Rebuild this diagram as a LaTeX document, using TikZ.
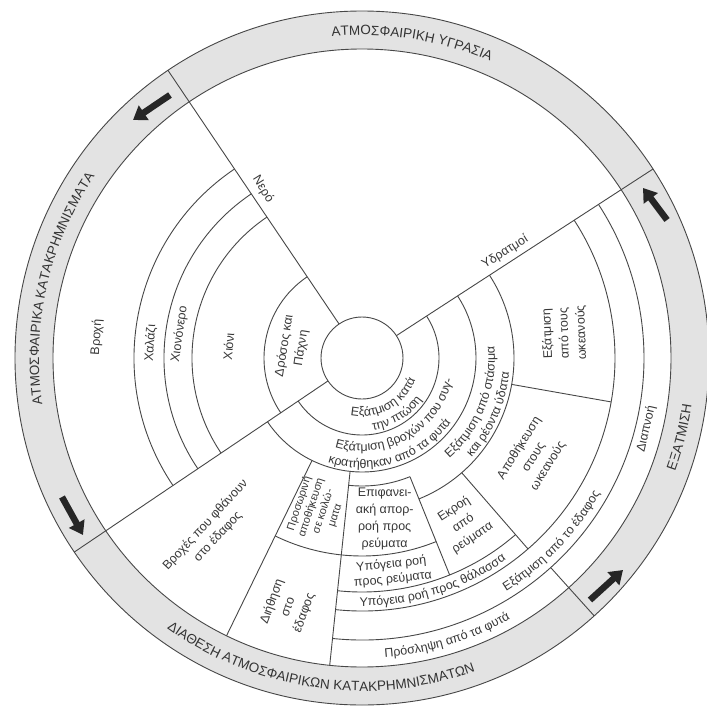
\documentclass[tikz,border=0pt]{standalone}
\usepackage{fontspec}
\setmainfont{Liberation Sans}
\usetikzlibrary{decorations.text,arrows.meta}
\newcommand\ringfnt{\color{black!80}\fontsize{13.5}{16}\selectfont}
\newcommand\bandfnt{\color{black!78}\fontsize{12.5}{15}\selectfont}
\newcommand\curvedtext[5]{\path[decorate,decoration={text along path,text align=center,text={|#4|#5}}] (#2:#1) arc[start angle=#2,end angle=#3,radius=#1];}
\begin{document}
\begin{tikzpicture}[x=1pt,y=1pt,
  ln/.style={draw=black!72,line width=0.9pt},
  lbl/.style={font=\fontsize{12.5}{17}\selectfont,text=black!78,align=center,inner sep=0pt},
  arrowst/.style={line width=6.5pt,draw=black!85,-{Triangle[length=13pt,width=17pt]}}]
\path[use as bounding box] (-362,-347) rectangle (345,358);
\fill[white] (-362,-347) rectangle (345,358);
% ring
\coordinate (O) at (0,0);
\filldraw[ln,fill=black!11] (O) circle[radius=347];
\filldraw[ln,fill=white] (O) circle[radius=309];
% radial lines
\draw[ln] (124:41) -- (124:347);
\draw[ln] (33:41) -- (33:347);
\draw[ln] (214:41) -- (214:347);
\draw[ln] (312:282) -- (312:347);
\draw[ln] (244:114) -- (244:309);
\draw[ln] (264:114) -- (264:309);
\draw[ln] (292:128) -- (292:234);
\draw[ln] (311:152) -- (311:253);
\draw[ln] (350:152) -- (350:253);
% arcs
\foreach \r in {98,170,198,228} \draw[ln] (124:\r) arc[start angle=124,end angle=214,radius=\r];
\draw[ln] (214:77) arc[start angle=214,end angle=393,radius=77];
\draw[ln] (214:114) arc[start angle=214,end angle=393,radius=114];
\draw[ln] (264:128) arc[start angle=264,end angle=292,radius=128];
\draw[ln] (292:152) arc[start angle=292,end angle=393,radius=152];
\draw[ln] (244:198) arc[start angle=244,end angle=292,radius=198];
\draw[ln] (264:234) arc[start angle=264,end angle=311,radius=234];
\draw[ln] (264:253) arc[start angle=264,end angle=393,radius=253];
\draw[ln] (264:282) arc[start angle=264,end angle=393,radius=282];
\filldraw[ln,fill=white] (O) circle[radius=41];
% labels
\node[lbl,rotate=86] (rain) at (175.5:266) {Βροχή};
\node[lbl,rotate=86] (hail) at (176:212) {Χαλάζι};
\node[lbl,rotate=82] (sleet) at (172.5:184) {Χιονόνερο};
\node[lbl,rotate=85] (snow) at (175:134) {Χιόνι};
\node[lbl,rotate=81] (dew) at (171:70) {Δρόσος και\\Πάχνη};
\node[lbl,rotate=-58] (water) at (-99,169) {Νερό};
\node[lbl,rotate=32] (vapour) at (143,106) {Υδρατμοί};
\node[lbl,rotate=92] (ocevap) at (7:204) {Εξάτμιση\\από τους\\ωκεανούς};
\node[lbl,rotate=58] (ocstore) at (330:198) {Αποθήκευση\\στους\\ωκεανούς};
\node[lbl,rotate=77] (transp) at (346:293) {Διαπνοή};
\node[lbl] (runoff) at (278:163) {Επιφανει-\\ακή απορ-\\ροή προς\\ρεύματα};
\node[lbl,rotate=33] (outflow) at (301.5:194) {Εκροή\\από\\ρεύματα};
\node[lbl,rotate=6,font=\fontsize{12.5}{15}\selectfont] (gwstream) at (278:216) {Υπόγεια ροή\\προς ρεύματα};
\node[lbl,rotate=47] (rainground) at (229:229) {Βροχές που φθάνουν\\στο έδαφος};
\node[lbl,rotate=72,font=\fontsize{11}{12.5}\selectfont] (depress) at (253.5:158) {Προσωρινή\\αποθήκευση\\σε κοιλώ-\\ματα};
\node[lbl,rotate=70] (infil) at (253.5:260) {Διήθηση\\στο\\έδαφος};
% curved texts
\curvedtext{58}{238}{358}{\bandfnt}{Εξάτμιση κατά}
\curvedtext{73}{242}{362}{\bandfnt}{την πτώση}
\curvedtext{93}{230}{370}{\bandfnt}{Εξάτμιση βροχών που συγ-}
\curvedtext{110}{220}{356}{\bandfnt}{κρατήθηκαν από τα φυτά}
\curvedtext{133}{278}{398}{\bandfnt}{Εξάτμιση από στάσιμα}
\curvedtext{148}{276}{396}{\bandfnt}{και ρέοντα ύδατα}
\curvedtext{248}{257}{318}{\bandfnt}{Υπόγεια ροή προς θάλασσα}
\curvedtext{274}{286}{346}{\bandfnt}{Εξάτμιση από το έδαφος}
\curvedtext{300}{257}{317}{\bandfnt}{Πρόσληψη από τα φυτά}
\curvedtext{323}{121}{41}{\ringfnt}{ΑΤΜΟΣΦΑΙΡΙΚΗ ΥΓΡΑΣΙΑ}
\curvedtext{323}{215}{119}{\ringfnt}{ΑΤΜΟΣΦΑΙΡΙΚΑ ΚΑΤΑΚΡΗΜΝΙΣΜΑΤΑ}
\curvedtext{333}{217}{307}{\ringfnt}{ΔΙΑΘΕΣΗ ΑΤΜΟΣΦΑΙΡΙΚΩΝ ΚΑΤΑΚΡΗΜΝΙΣΜΑΤΩΝ}
\curvedtext{333}{326}{366}{\ringfnt}{ΕΞΑΤΜΙΣΗ}
% arrows
\coordinate (a1s) at (-192,263); \coordinate (a1e) at (-229,238);
\coordinate (a2s) at (305,138);  \coordinate (a2e) at (281,170);
\coordinate (a3s) at (-300,-139); \coordinate (a3e) at (-279,-177);
\coordinate (a4s) at (228,-242); \coordinate (a4e) at (261,-212);
\draw[arrowst] (a1s) -- (a1e);
\draw[arrowst] (a2s) -- (a2e);
\draw[arrowst] (a3s) -- (a3e);
\draw[arrowst] (a4s) -- (a4e);
\end{tikzpicture}
\end{document}
